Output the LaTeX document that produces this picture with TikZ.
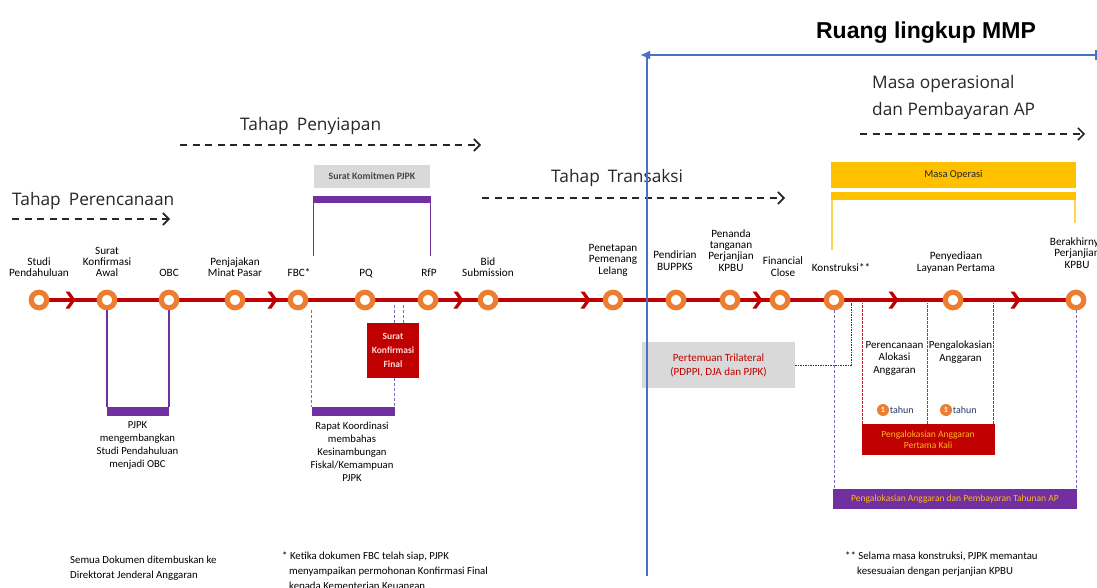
\documentclass[tikz,border=0pt]{standalone}
\usepackage{fontspec}
\setmainfont{Carlito}
\newfontfamily\phasefont{Open Sans}
\newfontfamily\scopefont{Liberation Sans}
\usetikzlibrary{arrows.meta,backgrounds}

\definecolor{lineRed}{HTML}{C00000}
\definecolor{ringOrange}{HTML}{ED7D31}
\definecolor{phasePurple}{HTML}{7030A0}
\definecolor{dashPurple}{HTML}{7F66C4}
\definecolor{boxGray}{HTML}{D9D9D9}
\definecolor{opsYellow}{HTML}{FFC000}
\definecolor{thinYellow}{HTML}{FFD44D}
\definecolor{scopeBlue}{HTML}{4472C4}
\definecolor{noteOrange}{HTML}{FFB81C}
\definecolor{textDark}{HTML}{262626}
\definecolor{navyText}{HTML}{203864}

\tikzset{
  milestone/.style={circle, draw=ringOrange, line width=5.2pt, fill=white,
    minimum size=15.5pt, inner sep=0pt},
  timeline/.style={lineRed, line width=3.5pt},
  mlabel/.style={font=\fontsize{11.2}{11.4}\selectfont, text=black,
    align=center, anchor=south, inner sep=0pt, text depth=2.5pt},
  phasetext/.style={font=\phasefont\fontsize{17.3}{28}\selectfont,
    text=textDark, anchor=base west, inner sep=0pt},
  phasearrow/.style={textDark, line width=1.6pt, dash pattern=on 7pt off 5.5pt,
    -{Straight Barb[length=6pt,width=12pt]}},
  chev/.pic={\fill[lineRed] (-4.5,-8.5) -- (-0.5,-8.5) -- (5.5,0) -- (-0.5,8.5)
    -- (-4.5,8.5) -- (1.5,0) -- cycle;},
  pbar/.style={fill=phasePurple, inner sep=0pt},
  bracket/.style={phasePurple, line width=1.3pt},
  dashlink/.style={dashPurple, line width=1pt, dash pattern=on 3pt off 2pt},
  reddash/.style={lineRed!85, line width=1pt, dash pattern=on 2.5pt off 1.5pt},
  belowtext/.style={font=\fontsize{10.7}{13}\selectfont, text=black,
    align=center, anchor=north, inner sep=0pt},
  notetext/.style={font=\fontsize{10.8}{14.7}\selectfont, text=black,
    align=left, anchor=base west, inner sep=0pt},
  yearbadge/.style={circle, fill=ringOrange, text=white, inner sep=0pt,
    minimum size=12pt, font=\bfseries\fontsize{8}{8}\selectfont},
}

\begin{document}
\begin{tikzpicture}[x=1pt,y=-1pt]
\useasboundingbox (0,0) rectangle (1097,588);

% ---- milestones on the timeline ----
\foreach \i/\x in {1/39,2/107,3/169,4/235,5/298,6/365,7/428,8/488,9/613,
                   10/676,11/730,12/780,13/834,14/953,15/1076}
  \node[milestone] (m\i) at (\x,300) {};

\begin{scope}[on background layer]
  \draw[timeline] (m1.center) -- (m15.center);
\end{scope}

\foreach \x in {70,272,458,585,757,893,1015}
  \pic at (\x,300) {chev};

% ---- milestone labels ----
\node[mlabel] (l1)  at (39,279.5)  {Studi\\Pendahuluan};
\node[mlabel] (l2)  at (107,279.5) {Surat\\Konfirmasi\\Awal};
\node[mlabel] (l3)  at (169,279.5) {OBC};
\node[mlabel] (l4)  at (235,279.5) {Penjajakan\\Minat Pasar};
\node[mlabel] (l5)  at (299,279.5) {FBC*};
\node[mlabel] (l6)  at (366,279.5) {PQ};
\node[mlabel] (l7)  at (429,279.5) {RfP};
\node[mlabel] (l8)  at (488,279.5) {Bid\\Submission};
\node[mlabel] (l9)  at (613,277)   {Penetapan\\Pemenang\\Lelang};
\node[mlabel] (l10) at (675,273)   {Pendirian\\BUPPKS};
\node[mlabel] (l11) at (731,274)   {Penanda\\tanganan\\Perjanjian\\KPBU};
\node[mlabel] (l12) at (783,279)   {Financial\\Close};
\node[mlabel] (l13) at (841,274)   {Konstruksi**};
\node[mlabel] (l14) at (956,274)   {Penyediaan\\Layanan Pertama};
\node[mlabel] (l15) at (1077,271)  {Berakhirnya\\Perjanjian\\KPBU};

% ---- phases ----
\node[phasetext] (ph1) at (12,206) {Tahap\hspace{8pt}Perencanaan};
\coordinate (ph1s) at (12,219);  \coordinate (ph1e) at (170,219);
\draw[phasearrow] (ph1s) -- (ph1e);

\node[phasetext] (ph2) at (240,131) {Tahap\hspace{8pt}Penyiapan};
\coordinate (ph2s) at (180,145); \coordinate (ph2e) at (481,145);
\draw[phasearrow] (ph2s) -- (ph2e);

\node[phasetext] (ph3) at (551,183) {Tahap\hspace{8pt}Transaksi};
\coordinate (ph3s) at (482,198); \coordinate (ph3e) at (785,198);
\draw[phasearrow] (ph3s) -- (ph3e);

\node[phasetext] (ph4a) at (872,89)  {Masa operasional};
\node[phasetext] (ph4b) at (872,116) {dan Pembayaran AP};
\coordinate (ph4s) at (860,134); \coordinate (ph4e) at (1085,134);
\draw[phasearrow] (ph4s) -- (ph4e);

% ---- commitment letter bracket (FBC to RfP) ----
\node[fill=boxGray, minimum width=116pt, minimum height=23pt, inner sep=0pt,
      font=\bfseries\fontsize{9.8}{10}\selectfont, text=black!72]
      (komit) at (372,176.5) {Surat Komitmen PJPK};
\node[pbar, minimum width=118pt, minimum height=7pt] (komitbar) at (372,199.5) {};
\draw[bracket] ([xshift=0.65pt]komitbar.south west) -- ++(0,53);
\draw[bracket] ([xshift=-0.65pt]komitbar.south east) -- ++(0,53);

% ---- PJPK develops the preliminary study ----
\node[pbar, minimum width=62pt, minimum height=9pt] (obcbar) at (137.5,411.5) {};
\draw[bracket, line width=1.2pt] (m2.south) -- (m2.south |- obcbar.north);
\draw[bracket, line width=1.2pt] (m3.south) -- (m3.south |- obcbar.north);
\node[belowtext] (obcnote) at (137.5,421)
  {PJPK\\mengembangkan\\Studi Pendahuluan\\menjadi OBC};

% ---- coordination meeting and final confirmation ----
\node[pbar, minimum width=83pt, minimum height=9pt] (rapatbar) at (353.5,411.5) {};
\draw[dashlink] (rapatbar.north west |- m5.south) -- (rapatbar.north west);
\node[fill=lineRed, minimum width=52pt, minimum height=55pt, inner sep=0pt,
      text=white!85!red, font=\bfseries\fontsize{9.5}{14}\selectfont, align=center]
      (skf) at (393,350.5) {Surat\\Konfirmasi\\Final};
\draw[dashlink] ([xshift=1pt]skf.north) -- ++(0,-18);
\draw[dashlink] ([xshift=10pt]skf.north) -- ++(0,-18);
\draw[dashlink] ([xshift=1pt]skf.south) -- ([xshift=1pt]skf.south |- rapatbar.north);
\node[belowtext] (rapatnote) at (352,422)
  {Rapat Koordinasi\\membahas\\Kesinambungan\\Fiskal/Kemampuan\\PJPK};

% ---- trilateral meeting ----
\node[fill=boxGray, minimum width=153pt, minimum height=46pt, inner sep=0pt,
      text=lineRed, font=\fontsize{11}{14}\selectfont, align=center]
      (trilat) at (718.5,365) {Pertemuan Trilateral\\(PDPPI, DJA dan PJPK)};
\draw[lineRed, line width=1pt, dash pattern=on 1.5pt off 1pt]
      (trilat.east) -| (851,303);

% ---- operation period ----
\node[fill=opsYellow, minimum width=245pt, minimum height=26pt, inner sep=0pt,
      font=\fontsize{10.5}{11}\selectfont, text=textDark]
      (ops) at (953.5,175) {Masa Operasi};
\node[fill=opsYellow, minimum width=245pt, minimum height=8pt, inner sep=0pt]
      (opsbar) at (953.5,196) {};
\draw[thinYellow, line width=1.8pt] ([xshift=1.5pt]opsbar.south west) -- ++(0,50);
\draw[thinYellow, line width=1.8pt] ([xshift=-1.5pt]opsbar.south east) -- ++(0,23);

% ---- budget allocation ----
\node[fill=phasePurple, minimum width=244pt, minimum height=20pt, inner sep=0pt,
      text=noteOrange, font=\fontsize{9.5}{10}\selectfont]
      (apbar) at (955,499) {Pengalokasian Anggaran dan Pembayaran Tahunan AP};
\draw[dashlink] (m13.south) -- (m13.south |- apbar.north);
\draw[dashlink] (m15.south) -- (m15.south |- apbar.north);

\node[fill=lineRed, minimum width=133pt, minimum height=31pt, inner sep=0pt,
      text=noteOrange, font=\fontsize{9.5}{11}\selectfont, align=center]
      (firstbox) at (928,439.5) {Pengalokasian Anggaran\\Pertama Kali};
\draw[reddash] ([xshift=1pt]firstbox.north west) -- ++(0,-121);
\draw[reddash] ([xshift=-1pt]firstbox.north) -- ++(0,-121);
\draw[reddash] ([xshift=-1pt]firstbox.north east) -- ++(0,-121);

\node[font=\fontsize{11}{12.5}\selectfont, align=center, anchor=north,
      inner sep=0pt, text=black] (plannote) at (894.5,341)
      {Perencanaan\\Alokasi\\Anggaran};
\node[font=\fontsize{11}{12.5}\selectfont, align=center, anchor=north,
      inner sep=0pt, text=black] (allocnote) at (960.5,341)
      {Pengalokasian\\Anggaran};

\node[yearbadge] (y1) at (883,410) {1};
\node[anchor=west, inner sep=0.5pt, font=\fontsize{10}{10}\selectfont,
      text=navyText] (y1t) at (y1.east) {tahun};
\node[yearbadge] (y2) at (946,410) {1};
\node[anchor=west, inner sep=0.5pt, font=\fontsize{10}{10}\selectfont,
      text=navyText] (y2t) at (y2.east) {tahun};

% ---- footnotes (anchored at the baseline of their last line) ----
\node[notetext] (note1) at (70,578)
  {Semua Dokumen ditembuskan ke\\Direktorat Jenderal Anggaran};
\node[notetext] (note2) at (282,589)
  {* Ketika dokumen FBC telah siap, PJPK\\
   \hspace*{7pt}menyampaikan permohonan Konfirmasi Final\\
   \hspace*{7pt}kepada Kementerian Keuangan};
\node[notetext] (note3) at (845,574)
  {** Selama masa konstruksi, PJPK memantau\\
   \hspace*{12pt}kesesuaian dengan perjanjian KPBU};

% ---- MMP scope ----
\node[font=\scopefont\bfseries\fontsize{23}{23}\selectfont, inner sep=0pt,
      anchor=base] (scope) at (926,39) {Ruang lingkup MMP};
\coordinate (scopeR) at (1097,55);
\coordinate (scopeL) at (640,55);
\coordinate (scopeTop) at (647,55);
\coordinate (scopeBot) at (647,576);
\draw[scopeBlue, line width=2pt, {Bar[width=10pt]}-{Latex[length=10pt,width=9pt]}]
      (scopeR) -- (scopeL);
\draw[scopeBlue, line width=2pt] (scopeTop) -- (scopeBot);
\end{tikzpicture}
\end{document}
